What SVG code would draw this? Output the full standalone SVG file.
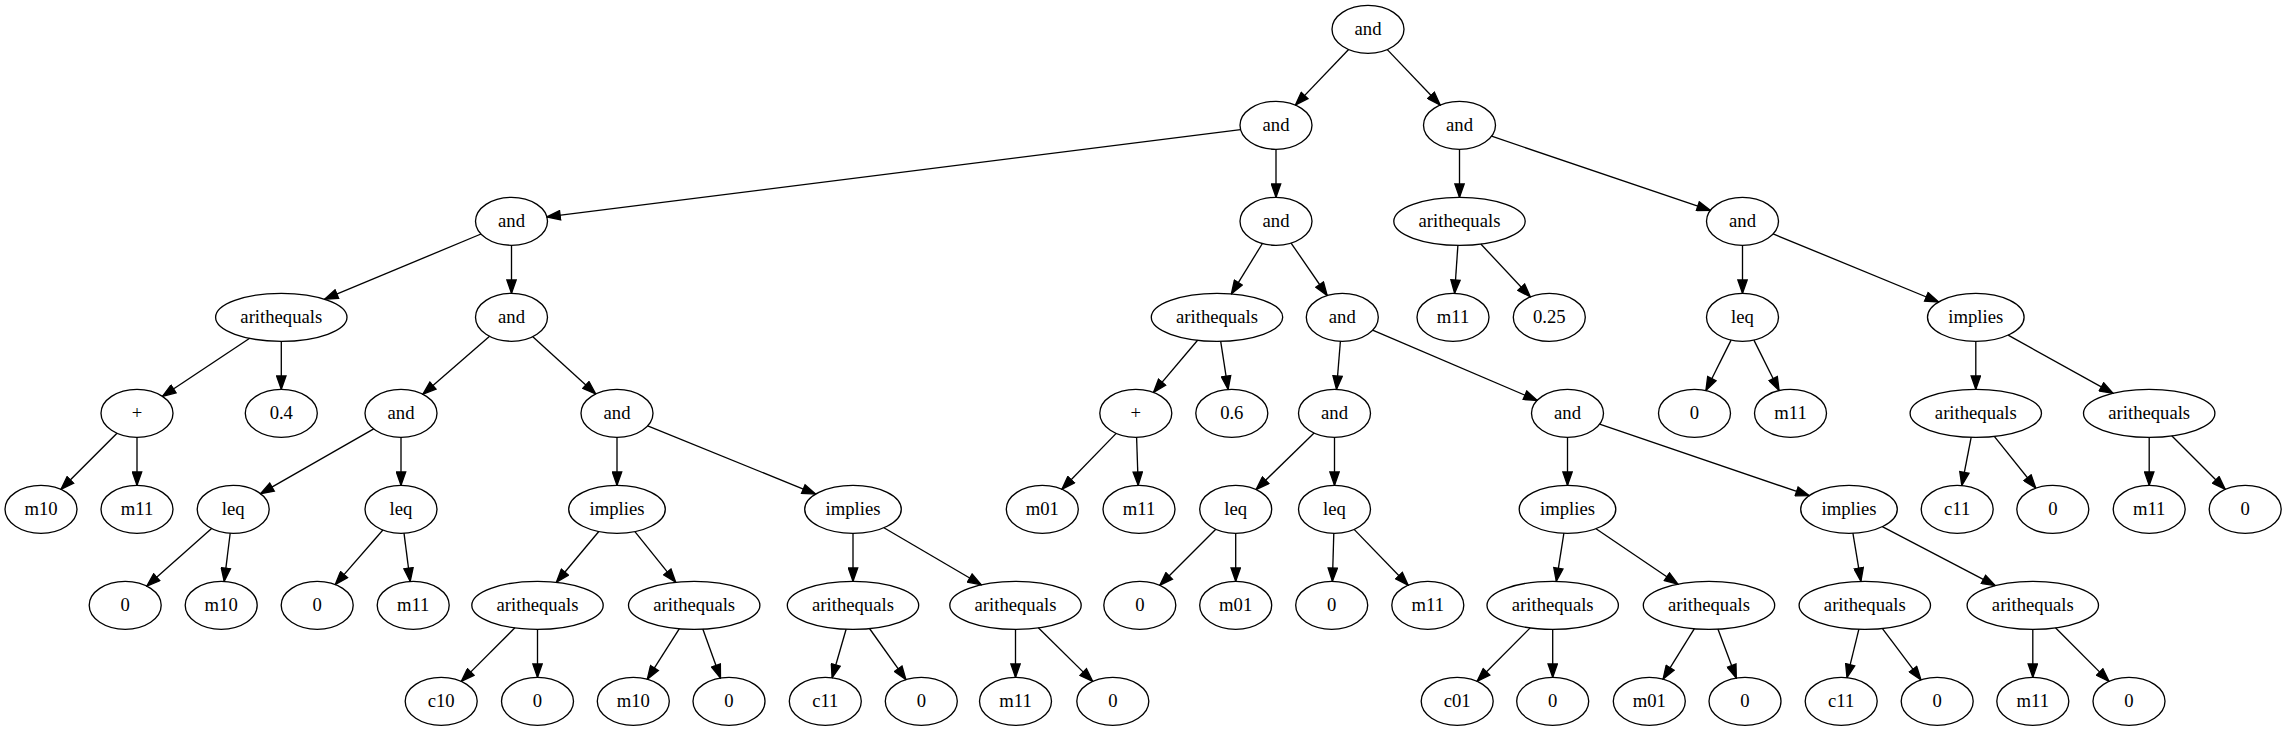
<svg xmlns="http://www.w3.org/2000/svg" width="2287" height="731" viewBox="0 0 2287 731" font-family="Liberation Serif, Times New Roman, DejaVu Serif, serif">
<style>
.node ellipse{fill:none;stroke:#000;stroke-width:1.33}
.node text{font-family:'Liberation Serif','Times New Roman','DejaVu Serif',serif;font-size:18.67px;text-anchor:middle;fill:#000}
.edges line{stroke:#000;stroke-width:1.33;fill:none;marker-end:url(#ah)}
</style>
<defs>
<marker id="ah" markerUnits="userSpaceOnUse" markerWidth="15" markerHeight="11" refX="13.3" refY="4.67" orient="auto" viewBox="-1 -1 15 11">
<path d="M0,0 L13.3,4.67 L0,9.33 z" fill="#000" stroke="#000" stroke-width="1.33"/>
</marker>
</defs>
<rect width="2287" height="731" fill="#fff"/>
<g class="edges">
<line x1="1348.6" y1="49.5" x2="1295.4" y2="105.1"/>
<line x1="1387.3" y1="49.6" x2="1440.2" y2="105.0"/>
<line x1="1240.6" y1="129.7" x2="546.9" y2="216.9"/>
<line x1="1276" y1="149.3" x2="1276" y2="197.3"/>
<line x1="1459.5" y1="149.3" x2="1459.5" y2="197.3"/>
<line x1="1491.6" y1="136.2" x2="1710.4" y2="210.4"/>
<line x1="481.0" y1="234.0" x2="324.6" y2="299.2"/>
<line x1="511.5" y1="245.3" x2="511.5" y2="293.3"/>
<line x1="249.7" y1="338.3" x2="162.5" y2="396.3"/>
<line x1="281.3" y1="341.3" x2="281.3" y2="389.3"/>
<line x1="117.0" y1="433.3" x2="61.0" y2="489.3"/>
<line x1="137" y1="437.3" x2="137" y2="485.3"/>
<line x1="489.6" y1="336.3" x2="422.9" y2="394.3"/>
<line x1="532.8" y1="336.7" x2="595.7" y2="393.9"/>
<line x1="373.7" y1="428.9" x2="260.5" y2="493.7"/>
<line x1="401" y1="437.3" x2="401" y2="485.3"/>
<line x1="211.6" y1="528.5" x2="146.8" y2="586.1"/>
<line x1="230.2" y1="533.2" x2="224.2" y2="581.4"/>
<line x1="382.9" y1="530.0" x2="335.3" y2="584.6"/>
<line x1="404.0" y1="533.2" x2="410.2" y2="581.4"/>
<line x1="617" y1="437.3" x2="617" y2="485.3"/>
<line x1="647.7" y1="425.8" x2="815.6" y2="494.1"/>
<line x1="598.8" y1="531.5" x2="556.4" y2="582.3"/>
<line x1="634.9" y1="531.6" x2="675.7" y2="582.3"/>
<line x1="514.9" y1="627.8" x2="461.3" y2="681.4"/>
<line x1="537.5" y1="629.3" x2="537.5" y2="677.3"/>
<line x1="679.4" y1="628.7" x2="647.3" y2="679.2"/>
<line x1="702.8" y1="629.1" x2="720.5" y2="678.0"/>
<line x1="853" y1="533.3" x2="853" y2="581.3"/>
<line x1="883.9" y1="527.7" x2="981.2" y2="584.8"/>
<line x1="846.1" y1="629.2" x2="832.1" y2="677.7"/>
<line x1="869.5" y1="628.5" x2="905.9" y2="679.6"/>
<line x1="1015.5" y1="629.3" x2="1015.5" y2="677.3"/>
<line x1="1038.3" y1="627.8" x2="1092.7" y2="681.4"/>
<line x1="1262.4" y1="243.5" x2="1231.4" y2="293.9"/>
<line x1="1291.1" y1="243.1" x2="1327.2" y2="295.5"/>
<line x1="1197.6" y1="340.2" x2="1153.5" y2="392.4"/>
<line x1="1220.7" y1="341.3" x2="1228.1" y2="389.4"/>
<line x1="1116.2" y1="433.4" x2="1061.9" y2="489.2"/>
<line x1="1136.6" y1="437.3" x2="1138.2" y2="485.3"/>
<line x1="1340.4" y1="341.3" x2="1336.5" y2="389.3"/>
<line x1="1372.6" y1="330.2" x2="1537.2" y2="400.4"/>
<line x1="1314.1" y1="433.1" x2="1256.1" y2="489.5"/>
<line x1="1334.5" y1="437.3" x2="1334.5" y2="485.3"/>
<line x1="1215.8" y1="529.3" x2="1159.8" y2="585.3"/>
<line x1="1235.7" y1="533.3" x2="1235.7" y2="581.3"/>
<line x1="1333.8" y1="533.3" x2="1332.4" y2="581.3"/>
<line x1="1354.1" y1="529.4" x2="1408.2" y2="585.2"/>
<line x1="1567.5" y1="437.3" x2="1567.5" y2="485.3"/>
<line x1="1599.6" y1="424.2" x2="1809.2" y2="495.7"/>
<line x1="1563.9" y1="533.2" x2="1556.3" y2="581.3"/>
<line x1="1596.0" y1="528.7" x2="1677.9" y2="584.2"/>
<line x1="1530.2" y1="627.9" x2="1477.1" y2="681.3"/>
<line x1="1552.7" y1="629.3" x2="1552.7" y2="677.3"/>
<line x1="1694.4" y1="628.7" x2="1663.1" y2="679.1"/>
<line x1="1717.9" y1="629.1" x2="1736.3" y2="678.0"/>
<line x1="1852.9" y1="533.2" x2="1860.9" y2="581.3"/>
<line x1="1882.3" y1="526.7" x2="1995.2" y2="585.6"/>
<line x1="1858.9" y1="629.2" x2="1847.0" y2="677.6"/>
<line x1="1882.3" y1="628.4" x2="1921.0" y2="679.9"/>
<line x1="2032.8" y1="629.3" x2="2032.8" y2="677.3"/>
<line x1="2055.5" y1="627.8" x2="2109.0" y2="681.4"/>
<line x1="1457.9" y1="245.3" x2="1454.6" y2="293.3"/>
<line x1="1480.8" y1="244.0" x2="1530.3" y2="296.9"/>
<line x1="1742.5" y1="245.3" x2="1742.5" y2="293.3"/>
<line x1="1773.1" y1="233.9" x2="1938.6" y2="302.0"/>
<line x1="1731.1" y1="340.1" x2="1705.9" y2="390.5"/>
<line x1="1753.9" y1="340.1" x2="1779.1" y2="390.5"/>
<line x1="1975.8" y1="341.3" x2="1975.8" y2="389.3"/>
<line x1="2008.1" y1="335.2" x2="2113.0" y2="393.3"/>
<line x1="1971.2" y1="437.2" x2="1961.8" y2="485.5"/>
<line x1="1994.3" y1="436.3" x2="2035.8" y2="488.1"/>
<line x1="2149.2" y1="437.3" x2="2149.2" y2="485.3"/>
<line x1="2171.7" y1="435.8" x2="2225.2" y2="489.3"/>
</g>
<g id="n0" class="node"><ellipse cx="1368" cy="29.3" rx="36" ry="24"/><text x="1368" y="35.3">and</text></g>
<g id="n1" class="node"><ellipse cx="1276" cy="125.3" rx="36" ry="24"/><text x="1276" y="131.3">and</text></g>
<g id="n60" class="node"><ellipse cx="1459.5" cy="125.3" rx="36" ry="24"/><text x="1459.5" y="131.3">and</text></g>
<g id="n2" class="node"><ellipse cx="511.5" cy="221.3" rx="36" ry="24"/><text x="511.5" y="227.3">and</text></g>
<g id="n31" class="node"><ellipse cx="1276" cy="221.3" rx="36" ry="24"/><text x="1276" y="227.3">and</text></g>
<g id="n61" class="node"><ellipse cx="1459.5" cy="221.3" rx="65.7" ry="24"/><text x="1459.5" y="227.3">arithequals</text></g>
<g id="n64" class="node"><ellipse cx="1742.5" cy="221.3" rx="36" ry="24"/><text x="1742.5" y="227.3">and</text></g>
<g id="n3" class="node"><ellipse cx="281.3" cy="317.3" rx="65.7" ry="24"/><text x="281.3" y="323.3">arithequals</text></g>
<g id="n8" class="node"><ellipse cx="511.5" cy="317.3" rx="36" ry="24"/><text x="511.5" y="323.3">and</text></g>
<g id="n32" class="node"><ellipse cx="1217" cy="317.3" rx="65.7" ry="24"/><text x="1217" y="323.3">arithequals</text></g>
<g id="n37" class="node"><ellipse cx="1342.3" cy="317.3" rx="36" ry="24"/><text x="1342.3" y="323.3">and</text></g>
<g id="n62" class="node"><ellipse cx="1453" cy="317.3" rx="36" ry="24"/><text x="1453" y="323.3">m11</text></g>
<g id="n63" class="node"><ellipse cx="1549.3" cy="317.3" rx="36" ry="24"/><text x="1549.3" y="323.3">0.25</text></g>
<g id="n65" class="node"><ellipse cx="1742.5" cy="317.3" rx="36" ry="24"/><text x="1742.5" y="323.3">leq</text></g>
<g id="n68" class="node"><ellipse cx="1975.8" cy="317.3" rx="48.3" ry="24"/><text x="1975.8" y="323.3">implies</text></g>
<g id="n4" class="node"><ellipse cx="137" cy="413.3" rx="36" ry="24"/><text x="137" y="419.3">+</text></g>
<g id="n7" class="node"><ellipse cx="281.3" cy="413.3" rx="36" ry="24"/><text x="281.3" y="419.3">0.4</text></g>
<g id="n9" class="node"><ellipse cx="401" cy="413.3" rx="36" ry="24"/><text x="401" y="419.3">and</text></g>
<g id="n16" class="node"><ellipse cx="617" cy="413.3" rx="36" ry="24"/><text x="617" y="419.3">and</text></g>
<g id="n33" class="node"><ellipse cx="1135.8" cy="413.3" rx="36" ry="24"/><text x="1135.8" y="419.3">+</text></g>
<g id="n36" class="node"><ellipse cx="1231.8" cy="413.3" rx="36" ry="24"/><text x="1231.8" y="419.3">0.6</text></g>
<g id="n38" class="node"><ellipse cx="1334.5" cy="413.3" rx="36" ry="24"/><text x="1334.5" y="419.3">and</text></g>
<g id="n45" class="node"><ellipse cx="1567.5" cy="413.3" rx="36" ry="24"/><text x="1567.5" y="419.3">and</text></g>
<g id="n66" class="node"><ellipse cx="1694.5" cy="413.3" rx="36" ry="24"/><text x="1694.5" y="419.3">0</text></g>
<g id="n67" class="node"><ellipse cx="1790.5" cy="413.3" rx="36" ry="24"/><text x="1790.5" y="419.3">m11</text></g>
<g id="n69" class="node"><ellipse cx="1975.8" cy="413.3" rx="65.7" ry="24"/><text x="1975.8" y="419.3">arithequals</text></g>
<g id="n72" class="node"><ellipse cx="2149.2" cy="413.3" rx="65.7" ry="24"/><text x="2149.2" y="419.3">arithequals</text></g>
<g id="n5" class="node"><ellipse cx="41" cy="509.3" rx="36" ry="24"/><text x="41" y="515.3">m10</text></g>
<g id="n6" class="node"><ellipse cx="137" cy="509.3" rx="36" ry="24"/><text x="137" y="515.3">m11</text></g>
<g id="n10" class="node"><ellipse cx="233.2" cy="509.3" rx="36" ry="24"/><text x="233.2" y="515.3">leq</text></g>
<g id="n13" class="node"><ellipse cx="401" cy="509.3" rx="36" ry="24"/><text x="401" y="515.3">leq</text></g>
<g id="n17" class="node"><ellipse cx="617" cy="509.3" rx="48.3" ry="24"/><text x="617" y="515.3">implies</text></g>
<g id="n24" class="node"><ellipse cx="853" cy="509.3" rx="48.3" ry="24"/><text x="853" y="515.3">implies</text></g>
<g id="n34" class="node"><ellipse cx="1042.3" cy="509.3" rx="36" ry="24"/><text x="1042.3" y="515.3">m01</text></g>
<g id="n35" class="node"><ellipse cx="1139" cy="509.3" rx="36" ry="24"/><text x="1139" y="515.3">m11</text></g>
<g id="n39" class="node"><ellipse cx="1235.7" cy="509.3" rx="36" ry="24"/><text x="1235.7" y="515.3">leq</text></g>
<g id="n42" class="node"><ellipse cx="1334.5" cy="509.3" rx="36" ry="24"/><text x="1334.5" y="515.3">leq</text></g>
<g id="n46" class="node"><ellipse cx="1567.5" cy="509.3" rx="48.3" ry="24"/><text x="1567.5" y="515.3">implies</text></g>
<g id="n53" class="node"><ellipse cx="1849" cy="509.3" rx="48.3" ry="24"/><text x="1849" y="515.3">implies</text></g>
<g id="n70" class="node"><ellipse cx="1957.2" cy="509.3" rx="36" ry="24"/><text x="1957.2" y="515.3">c11</text></g>
<g id="n71" class="node"><ellipse cx="2052.8" cy="509.3" rx="36" ry="24"/><text x="2052.8" y="515.3">0</text></g>
<g id="n73" class="node"><ellipse cx="2149.2" cy="509.3" rx="36" ry="24"/><text x="2149.2" y="515.3">m11</text></g>
<g id="n74" class="node"><ellipse cx="2245.2" cy="509.3" rx="36" ry="24"/><text x="2245.2" y="515.3">0</text></g>
<g id="n11" class="node"><ellipse cx="125.2" cy="605.3" rx="36" ry="24"/><text x="125.2" y="611.3">0</text></g>
<g id="n12" class="node"><ellipse cx="221.2" cy="605.3" rx="36" ry="24"/><text x="221.2" y="611.3">m10</text></g>
<g id="n14" class="node"><ellipse cx="317.2" cy="605.3" rx="36" ry="24"/><text x="317.2" y="611.3">0</text></g>
<g id="n15" class="node"><ellipse cx="413.2" cy="605.3" rx="36" ry="24"/><text x="413.2" y="611.3">m11</text></g>
<g id="n18" class="node"><ellipse cx="537.5" cy="605.3" rx="65.7" ry="24"/><text x="537.5" y="611.3">arithequals</text></g>
<g id="n21" class="node"><ellipse cx="694.2" cy="605.3" rx="65.7" ry="24"/><text x="694.2" y="611.3">arithequals</text></g>
<g id="n25" class="node"><ellipse cx="853" cy="605.3" rx="65.7" ry="24"/><text x="853" y="611.3">arithequals</text></g>
<g id="n28" class="node"><ellipse cx="1015.5" cy="605.3" rx="65.7" ry="24"/><text x="1015.5" y="611.3">arithequals</text></g>
<g id="n40" class="node"><ellipse cx="1139.8" cy="605.3" rx="36" ry="24"/><text x="1139.8" y="611.3">0</text></g>
<g id="n41" class="node"><ellipse cx="1235.7" cy="605.3" rx="36" ry="24"/><text x="1235.7" y="611.3">m01</text></g>
<g id="n43" class="node"><ellipse cx="1331.7" cy="605.3" rx="36" ry="24"/><text x="1331.7" y="611.3">0</text></g>
<g id="n44" class="node"><ellipse cx="1427.8" cy="605.3" rx="36" ry="24"/><text x="1427.8" y="611.3">m11</text></g>
<g id="n47" class="node"><ellipse cx="1552.7" cy="605.3" rx="65.7" ry="24"/><text x="1552.7" y="611.3">arithequals</text></g>
<g id="n50" class="node"><ellipse cx="1709" cy="605.3" rx="65.7" ry="24"/><text x="1709" y="611.3">arithequals</text></g>
<g id="n54" class="node"><ellipse cx="1864.8" cy="605.3" rx="65.7" ry="24"/><text x="1864.8" y="611.3">arithequals</text></g>
<g id="n57" class="node"><ellipse cx="2032.8" cy="605.3" rx="65.7" ry="24"/><text x="2032.8" y="611.3">arithequals</text></g>
<g id="n19" class="node"><ellipse cx="441.2" cy="701.3" rx="36" ry="24"/><text x="441.2" y="707.3">c10</text></g>
<g id="n20" class="node"><ellipse cx="537.5" cy="701.3" rx="36" ry="24"/><text x="537.5" y="707.3">0</text></g>
<g id="n22" class="node"><ellipse cx="633.3" cy="701.3" rx="36" ry="24"/><text x="633.3" y="707.3">m10</text></g>
<g id="n23" class="node"><ellipse cx="729" cy="701.3" rx="36" ry="24"/><text x="729" y="707.3">0</text></g>
<g id="n26" class="node"><ellipse cx="825.3" cy="701.3" rx="36" ry="24"/><text x="825.3" y="707.3">c11</text></g>
<g id="n27" class="node"><ellipse cx="921.3" cy="701.3" rx="36" ry="24"/><text x="921.3" y="707.3">0</text></g>
<g id="n29" class="node"><ellipse cx="1015.5" cy="701.3" rx="36" ry="24"/><text x="1015.5" y="707.3">m11</text></g>
<g id="n30" class="node"><ellipse cx="1112.8" cy="701.3" rx="36" ry="24"/><text x="1112.8" y="707.3">0</text></g>
<g id="n48" class="node"><ellipse cx="1457.2" cy="701.3" rx="36" ry="24"/><text x="1457.2" y="707.3">c01</text></g>
<g id="n49" class="node"><ellipse cx="1552.7" cy="701.3" rx="36" ry="24"/><text x="1552.7" y="707.3">0</text></g>
<g id="n51" class="node"><ellipse cx="1649.3" cy="701.3" rx="36" ry="24"/><text x="1649.3" y="707.3">m01</text></g>
<g id="n52" class="node"><ellipse cx="1745" cy="701.3" rx="36" ry="24"/><text x="1745" y="707.3">0</text></g>
<g id="n55" class="node"><ellipse cx="1841.2" cy="701.3" rx="36" ry="24"/><text x="1841.2" y="707.3">c11</text></g>
<g id="n56" class="node"><ellipse cx="1937.2" cy="701.3" rx="36" ry="24"/><text x="1937.2" y="707.3">0</text></g>
<g id="n58" class="node"><ellipse cx="2032.8" cy="701.3" rx="36" ry="24"/><text x="2032.8" y="707.3">m11</text></g>
<g id="n59" class="node"><ellipse cx="2129" cy="701.3" rx="36" ry="24"/><text x="2129" y="707.3">0</text></g>
</svg>
